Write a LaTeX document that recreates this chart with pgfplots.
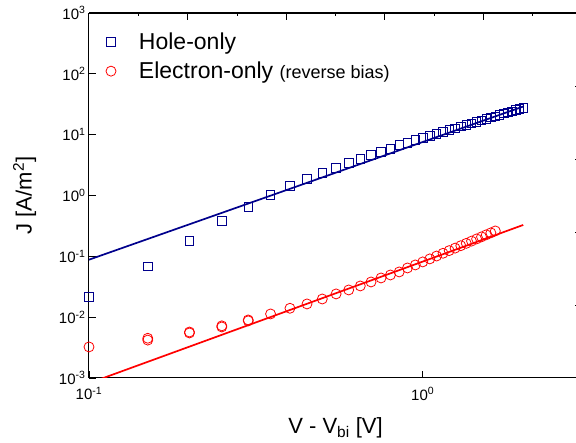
\documentclass[border=0pt]{standalone}
\usepackage{fontspec}
\setmainfont{Liberation Sans}
\usepackage{pgfplots}
\pgfplotsset{compat=1.18}
\definecolor{hole}{RGB}{0,0,140}
\definecolor{elec}{RGB}{255,0,0}
\begin{document}
\begin{tikzpicture}
\begin{axis}[
  scale only axis, width=493pt, height=365pt,
  xmode=log, ymode=log, log basis x=10, log basis y=10,
  xmin=0.1, xmax=3, ymin=1e-3, ymax=1e3,
  xtick={0.1,1}, ytick={1e-3,1e-2,1e-1,1,1e1,1e2,1e3},
  xtick pos=bottom, ytick pos=left,
  major tick length=7pt, minor tick length=4pt,
  tick style={black, line width=0.8pt},
  axis line style={line width=1pt},
  xticklabel={\pgfmathparse{int(round(\tick))}10\textsuperscript{\pgfmathresult}},
  yticklabel={\pgfmathparse{int(round(\tick))}10\textsuperscript{\pgfmathresult}},
  ticklabel style={font=\fontsize{15}{15}\selectfont},
  xticklabel style={yshift=-6pt},
  xlabel={V - V\textsubscript{bi} [V]},
  ylabel={J [A/m\textsuperscript{2}]},
  label style={font=\fontsize{22}{22}\selectfont},
  xlabel shift=10pt,
  ylabel shift=16pt,
  legend style={draw=none, fill=none, at={(0.028,0.957)}, anchor=north west,
    font=\fontsize{23}{23}\selectfont, row sep=7pt, column sep=21pt},
  legend cell align=left,
]
\coordinate (sw) at (rel axis cs:0,0);
\addplot[only marks, mark=square, mark size=4.2pt, draw=hole, mark options={line width=0.8pt, fill=none}] coordinates {
(0.10,0.0215) (0.15,0.069) (0.20,0.179) (0.25,0.38) (0.30,0.65) (0.35,1.02)
(0.40,1.44) (0.45,1.87) (0.50,2.35) (0.55,2.85) (0.60,3.44) (0.65,4.0)
(0.70,4.65) (0.75,5.2) (0.80,5.84) (0.85,6.8) (0.90,7.33) (0.95,8.2)
(1.00,8.85) (1.05,9.59) (1.10,10.35) (1.15,11.13) (1.20,11.94) (1.25,12.76)
(1.30,13.6) (1.35,14.48) (1.40,15.37) (1.45,16.3) (1.50,17.2) (1.55,18.2)
(1.60,19.1) (1.65,20.1) (1.70,21.1) (1.75,22.2) (1.80,23.2) (1.85,24.3)
(1.90,25.4) (1.95,26.5) (2.00,27.6)
};
\addlegendentry{Hole-only}
\addplot[only marks, mark=o, mark size=5pt, draw=elec, mark options={line width=0.8pt}] coordinates {
(0.10,0.00324) (0.15,0.0045) (0.15,0.0042) (0.20,0.0057) (0.20,0.0055)
(0.25,0.0072) (0.25,0.0069) (0.30,0.0090) (0.30,0.0087) (0.35,0.0113)
(0.40,0.0140) (0.45,0.0165) (0.50,0.0199) (0.55,0.0241) (0.60,0.028)
(0.65,0.0326) (0.70,0.0379) (0.75,0.0441) (0.80,0.0494) (0.85,0.0554)
(0.90,0.0644) (0.95,0.0722) (1.00,0.081) (1.05,0.0908) (1.10,0.1012)
(1.15,0.1123) (1.20,0.1241) (1.25,0.1365) (1.30,0.1496) (1.35,0.1634)
(1.40,0.178) (1.45,0.1933) (1.50,0.2091) (1.55,0.2259) (1.60,0.2432)
(1.65,0.2615)
};
\addlegendentry{Electron-only {\fontsize{18}{18}\selectfont (reverse bias)}}
\addplot[forget plot, hole, line width=1.7pt] coordinates {(0.1,0.088) (2,29)};
\addplot[forget plot, elec, line width=1.7pt] coordinates {(0.1,0.00082) (2,0.328)};
\end{axis}
\begin{axis}[
  scale only axis, width=493pt, height=365pt,
  axis x line*=top, axis y line*=right,
  xmin=0, xmax=10, ymin=0, ymax=5,
  xtick={2,4,6,8}, minor xtick={1,3,5,7,9}, ytick={1,2,3,4},
  xticklabels={}, yticklabels={},
  major tick length=7pt, minor tick length=3.5pt,
  tick style={black, line width=0.8pt},
  axis line style={line width=1pt},
]
\end{axis}
\pgfresetboundingbox
\path ([shift={(-89pt,-65pt)}]sw) rectangle ([shift={(487pt,378pt)}]sw);
\end{tikzpicture}
\end{document}
